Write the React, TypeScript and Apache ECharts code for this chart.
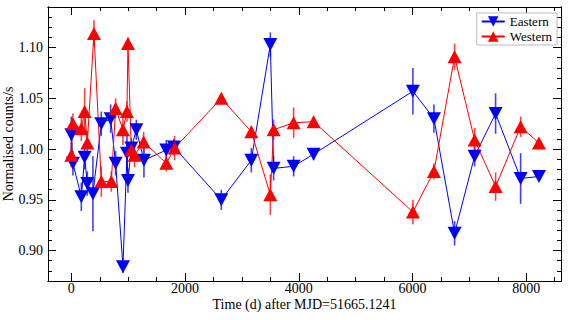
import React, { useEffect, useRef } from "react";
import * as echarts from "echarts";

// Time (d) after MJD=51665.1241
const eastTime = [0, 28, 176, 234, 281, 380, 527, 691, 779, 908, 978, 996, 1055, 1143, 1277, 1670, 1804, 2637, 3165, 3499, 3557, 3909, 4260, 6006, 6376, 6739, 7091, 7460, 7900, 8222];
const eastValue = [1.014, 0.986, 0.953, 0.992, 0.966, 0.956, 1.025, 1.030, 0.986, 0.884, 0.996, 0.969, 1.001, 1.019, 0.989, 0.999, 1.002, 0.950, 0.989, 1.103, 0.981, 0.983, 0.995, 1.057, 1.030, 0.917, 0.993, 1.035, 0.971, 0.973];
const eastError = [0.018, 0.012, 0.014, 0.012, 0.012, 0.037, 0.012, 0.014, 0.012, 0.006, 0.018, 0.012, 0.010, 0.010, 0.017, 0.010, 0.008, 0.010, 0.012, 0.012, 0.012, 0.010, 0.006, 0.023, 0.014, 0.012, 0.010, 0.020, 0.025, 0.005];

const westTime = [0, 28, 176, 234, 281, 398, 527, 703, 779, 908, 978, 996, 1055, 1113, 1271, 1670, 1816, 2637, 3165, 3499, 3557, 3909, 4260, 6006, 6376, 6739, 7091, 7460, 7900, 8222];
const westValue = [0.994, 1.025, 1.020, 1.037, 1.006, 1.114, 0.968, 0.968, 1.040, 1.019, 1.037, 1.104, 0.999, 0.994, 1.007, 0.986, 1.001, 1.050, 1.017, 0.955, 1.019, 1.026, 1.027, 0.938, 0.978, 1.091, 1.009, 0.963, 1.022, 1.006];
const westError = [0.012, 0.010, 0.012, 0.023, 0.012, 0.013, 0.015, 0.010, 0.010, 0.015, 0.010, 0.006, 0.008, 0.012, 0.010, 0.008, 0.012, 0.005, 0.006, 0.020, 0.010, 0.015, 0.005, 0.012, 0.008, 0.013, 0.012, 0.014, 0.010, 0.005];

const xMajorTicks = [0, 2000, 4000, 6000, 8000];
const xMinorTicks = [0, 500, 1000, 1500, 2000, 2500, 3000, 3500, 4000, 4500, 5000, 5500, 6000, 6500, 7000, 7500, 8000, 8500];
const yMajorTicks = [0.90, 0.95, 1.00, 1.05, 1.10];
const yMinorTicks = [0.87, 0.88, 0.89, 0.90, 0.91, 0.92, 0.93, 0.94, 0.95, 0.96, 0.97, 0.98, 0.99, 1.00, 1.01, 1.02, 1.03, 1.04, 1.05, 1.06, 1.07, 1.08, 1.09, 1.10, 1.11, 1.12, 1.13, 1.14];

const X_MIN = -410;
const X_MAX = 8610;
const Y_MIN = 0.87;
const Y_MAX = 1.14;

const FONT = "Liberation Serif, Times New Roman, serif";
const BLUE = "#0000ff";
const RED = "#ff0000";

export default function App() {
  const ref = useRef<HTMLDivElement>(null);
  useEffect(() => {
    if (!ref.current) return;
    const chart = echarts.init(ref.current, null, { renderer: "svg" });

    const mkX = (pos: string, ticks: number[], len: number, labels: boolean, name?: string) => ({
      type: "value",
      position: pos,
      min: X_MIN,
      max: X_MAX,
      name: name,
      nameLocation: "middle",
      nameGap: 16,
      nameMoveOverlap: false,
      nameTextStyle: { fontFamily: FONT, fontSize: 14, lineHeight: 14, color: "#000" },
      axisLine: { show: true, onZero: false, lineStyle: { color: "#000", width: 1 } },
      axisTick: { show: true, inside: true, length: len, customValues: ticks, lineStyle: { color: "#000", width: 1 } },
      axisLabel: labels
        ? { show: true, customValues: xMajorTicks, fontFamily: FONT, fontSize: 14, lineHeight: 14, color: "#000", margin: 0, formatter: (v: number) => String(v) }
        : { show: false },
      splitLine: { show: false },
    });
    const mkY = (pos: string, ticks: number[], len: number, labels: boolean, name?: string) => ({
      type: "value",
      position: pos,
      min: Y_MIN,
      max: Y_MAX,
      name: name,
      nameLocation: "middle",
      nameGap: 33,
      nameMoveOverlap: false,
      nameTextStyle: { fontFamily: FONT, fontSize: 14, lineHeight: 14, color: "#000" },
      axisLine: { show: true, onZero: false, lineStyle: { color: "#000", width: 1 } },
      axisTick: { show: true, inside: true, length: len, customValues: ticks, lineStyle: { color: "#000", width: 1 } },
      axisLabel: labels
        ? { show: true, customValues: yMajorTicks, fontFamily: FONT, fontSize: 14, color: "#000", margin: 5, formatter: (v: number) => v.toFixed(2) }
        : { show: false },
      splitLine: { show: false },
    });

    const errSeries = (name: string, t: number[], v: number[], e: number[], color: string) => ({
      type: "custom",
      name: name + " err",
      xAxisIndex: 0,
      yAxisIndex: 0,
      z: 1,
      silent: true,
      data: t.map((x, i) => [x, v[i], e[i]]),
      encode: { x: 0, y: 1 },
      renderItem: (params: any, api: any) => {
        const x = api.value(0);
        const y = api.value(1);
        const er = api.value(2);
        const p1 = api.coord([x, y - er]);
        const p2 = api.coord([x, y + er]);
        return {
          type: "line",
          shape: { x1: p1[0], y1: p1[1], x2: p2[0], y2: p2[1] },
          style: { stroke: color, lineWidth: 1.6, opacity: 0.75 },
        };
      },
    });

    chart.setOption({
      animation: false,
      backgroundColor: "#fff",
      textStyle: { fontFamily: FONT },
      grid: { left: 48, right: 7, top: 7, bottom: 39, containLabel: false, outerBoundsMode: "none" },
      xAxis: [
        mkX("bottom", xMajorTicks, 8, true, "Time (d) after MJD=51665.1241"),
        mkX("bottom", xMinorTicks, 4, false),
        mkX("top", xMajorTicks, 8, false),
        mkX("top", xMinorTicks, 4, false),
      ],
      yAxis: [
        mkY("left", yMajorTicks, 8, true, "Normalised counts/s"),
        mkY("left", yMinorTicks, 4, false),
        mkY("right", yMajorTicks, 8, false),
        mkY("right", yMinorTicks, 4, false),
      ],
      legend: {
        right: 11,
        top: 13,
        orient: "vertical",
        backgroundColor: "#fff",
        borderColor: "#bbb",
        borderWidth: 1,
        borderRadius: 0,
        padding: [2, 5, 2, 4],
        itemWidth: 23,
        itemHeight: 13,
        itemGap: 2,
        textStyle: { fontFamily: FONT, fontSize: 13, color: "#000" },
        data: ["Eastern", "Western"],
      },
      series: [
        errSeries("Eastern", eastTime, eastValue, eastError, BLUE),
        errSeries("Western", westTime, westValue, westError, RED),
        {
          type: "line",
          name: "Eastern",
          xAxisIndex: 0,
          yAxisIndex: 0,
          z: 3,
          data: eastTime.map((x, i) => [x, eastValue[i]]),
          symbol: "triangle",
          symbolRotate: 180,
          symbolSize: [14, 13],
          lineStyle: { color: BLUE, width: 1 },
          itemStyle: { color: BLUE },
        },
        {
          type: "line",
          name: "Western",
          xAxisIndex: 0,
          yAxisIndex: 0,
          z: 3,
          data: westTime.map((x, i) => [x, westValue[i]]),
          symbol: "triangle",
          symbolSize: [14, 13],
          lineStyle: { color: RED, width: 1 },
          itemStyle: { color: RED },
        },
      ],
    });
    return () => chart.dispose();
  }, []);
  return <div ref={ref} style={{ position: "absolute", left: 0, top: 0, width: 568, height: 320 }} />;
}
